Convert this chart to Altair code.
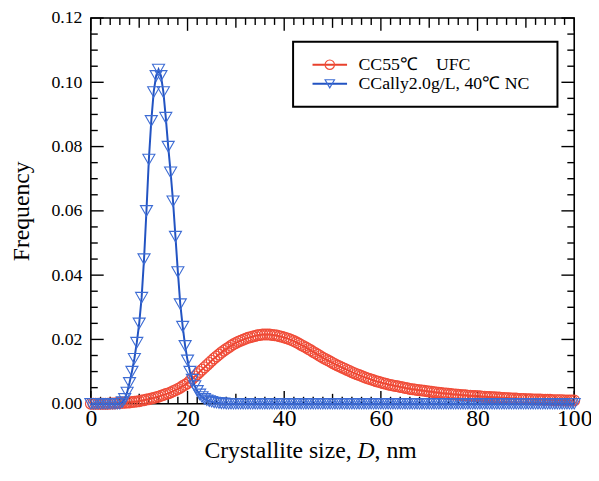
import altair as alt
import pandas as pd

# ---------------- data ----------------
# crystallite size grid, nm (0 ... 100 in 0.5 nm steps)
size_nm = [i * 0.5 for i in range(201)]

# CC55℃ UFC  (red circles)
freq_cc55 = [
    0, 0, 0, 0, 0, 0, 0, 0, 0.0001, 0.0001,                                    # 0-4.5
    0.0001, 0.0002, 0.0002, 0.0003, 0.0003, 0.0004, 0.0004, 0.0005, 0.0006, 0.0007,  # 5-9.5
    0.0008, 0.0010, 0.0011, 0.0013, 0.0014, 0.0016, 0.0018, 0.0020, 0.0022, 0.0025,  # 10-14.5
    0.0027, 0.0030, 0.0032, 0.0035, 0.0039, 0.0042, 0.0046, 0.0050, 0.0055, 0.0059,  # 15-19.5
    0.0064, 0.0071, 0.0078, 0.0085, 0.0092, 0.0099, 0.0106, 0.0113, 0.0120, 0.0127,  # 20-24.5
    0.0134, 0.0141, 0.0147, 0.0153, 0.0159, 0.0165, 0.0170, 0.0175, 0.0180, 0.0185,  # 25-29.5
    0.0189, 0.0193, 0.0196, 0.0199, 0.0202, 0.0205, 0.0207, 0.0209, 0.0211, 0.0213,  # 30-34.5
    0.0214, 0.0215, 0.0215, 0.0215, 0.0215, 0.0214, 0.0213, 0.0212, 0.0210, 0.0208,  # 35-39.5
    0.0206, 0.0204, 0.0201, 0.0198, 0.0195, 0.0191, 0.0187, 0.0183, 0.0179, 0.0175,  # 40-44.5
    0.0170, 0.0166, 0.0161, 0.0157, 0.0152, 0.0148, 0.0143, 0.0139, 0.0135, 0.0131,  # 45-49.5
    0.0127, 0.0123, 0.0119, 0.0116, 0.0112, 0.0109, 0.0105, 0.0102, 0.0098, 0.0095,  # 50-54.5
    0.0092, 0.0089, 0.0086, 0.0083, 0.0080, 0.0078, 0.0075, 0.0073, 0.0070, 0.0068,  # 55-59.5
    0.0066, 0.0064, 0.0062, 0.0060, 0.0058, 0.0057, 0.0055, 0.0054, 0.0052, 0.0051,  # 60-64.5
    0.0049, 0.0048, 0.0046, 0.0045, 0.0044, 0.0043, 0.0042, 0.0041, 0.0040, 0.0039,  # 65-69.5
    0.0038, 0.0037, 0.0036, 0.0035, 0.0034, 0.0033, 0.0032, 0.0032, 0.0031, 0.0030,  # 70-74.5
    0.0029, 0.0029, 0.0028, 0.0027, 0.0026, 0.0026, 0.0025, 0.0025, 0.0024, 0.0024,  # 75-79.5
    0.0023, 0.0023, 0.0022, 0.0022, 0.0021, 0.0021, 0.0020, 0.0020, 0.0019, 0.0019,  # 80-84.5
    0.0018, 0.0018, 0.0017, 0.0017, 0.0016, 0.0016, 0.0016, 0.0015, 0.0015, 0.0015,  # 85-89.5
    0.0014, 0.0014, 0.0014, 0.0013, 0.0013, 0.0013, 0.0013, 0.0012, 0.0012, 0.0012,  # 90-94.5
    0.0012, 0.0011, 0.0011, 0.0011, 0.0011, 0.0011, 0.0010, 0.0010, 0.0010, 0.0010,  # 95-99.5
    0.0010,                                                                          # 100
]

# CCally2.0g/L, 40℃ NC  (blue triangles)
freq_ccally = (
    [0] * 10                                                                          # 0-4.5
    + [0, 0, 0, 0.0005, 0.0015, 0.0035, 0.0065, 0.010, 0.014, 0.019]                 # 5-9.5
    + [0.025, 0.033, 0.045, 0.060, 0.076, 0.088, 0.097, 0.102, 0.104, 0.102]         # 10-14.5
    + [0.097, 0.089, 0.080, 0.072, 0.063, 0.052, 0.041, 0.031, 0.024, 0.018]         # 15-19.5
    + [0.0135, 0.010, 0.0075, 0.0055, 0.0040, 0.0029, 0.0021, 0.0015, 0.0011, 0.0008]  # 20-24.5
    + [0.0006, 0.0004, 0.0003, 0.0002, 0.0001, 0.0001, 0, 0, 0, 0]                   # 25-29.5
    + [0] * 141                                                                       # 30-100
)
assert len(freq_cc55) == len(size_nm) == len(freq_ccally)

series_labels = ["CC55℃\u3000UFC", "CCally2.0g/L, 40℃ NC"]
x_label_values = [0, 20, 40, 60, 80, 100]
x_mid_ticks = [10, 30, 50, 70, 90]
x_minor_ticks = [v for v in range(2, 100, 2) if v % 10 != 0]
y_label_values = [0.0, 0.02, 0.04, 0.06, 0.08, 0.10, 0.12]
y_minor_ticks = [0.005, 0.01, 0.015, 0.025, 0.03, 0.035, 0.045, 0.05, 0.055,
                 0.065, 0.07, 0.075, 0.085, 0.09, 0.095, 0.105, 0.11, 0.115]

# ---------------- style ----------------
W, H = 490, 391
FONT = "Liberation Serif"
RED_LINE, RED_PT = "#E8412C", "#F04C38"
BLUE_LINE, BLUE_PT = "#2253C2", "#3D6CD4"

xs = alt.Scale(domain=[0, 100], nice=False, zero=False)
ys = alt.Scale(domain=[0, 0.12], nice=False)

df_red = pd.DataFrame({"x": size_nm, "y": freq_cc55})
df_blue = pd.DataFrame({"x": size_nm, "y": freq_ccally})

x_axis = alt.Axis(values=x_label_values, ticks=False, domain=False, grid=False,
                  labelFont=FONT, labelFontSize=24, labelPadding=3, labelColor="black",
                  format="d", title=None, labelFlush=False, labelOverlap=False)
y_axis = alt.Axis(values=y_label_values, ticks=False, domain=False, grid=False,
                  labelFont=FONT, labelFontSize=18, labelPadding=9, labelColor="black",
                  format=".2f", title="Frequency", titleFont=FONT, titleFontSize=24,
                  titleFontWeight="normal", titleColor="black", titleAngle=270,
                  titleX=-63, titleY=H / 2, titleAlign="center", titleBaseline="alphabetic",
                  labelFlush=False, labelOverlap=False)

X = alt.X("x:Q", scale=xs, axis=x_axis)
Y = alt.Y("y:Q", scale=ys, axis=y_axis)

layers = []


def xtick_layer(vals, length):
    out = []
    d = pd.DataFrame({"x": vals})
    for y0, y1 in [(H, H - length), (0, length)]:
        out.append(
            alt.Chart(d).mark_rule(color="black", strokeWidth=1.4).encode(
                x=X, y=alt.value(y0), y2=alt.value(y1),
            )
        )
    return out


def ytick_layer(vals, length):
    out = []
    d = pd.DataFrame({"y": vals})
    for x0, x1 in [(0, length), (W, W - length)]:
        out.append(
            alt.Chart(d).mark_rule(color="black", strokeWidth=1.4).encode(
                y=Y, x=alt.value(x0), x2=alt.value(x1),
            )
        )
    return out


# red series
layers.append(alt.Chart(df_red).mark_line(color=RED_LINE, strokeWidth=2).encode(x=X, y=Y))

layers += xtick_layer(x_label_values, 13)
layers += xtick_layer(x_mid_ticks, 10)
layers += xtick_layer(x_minor_ticks, 7)
layers += ytick_layer(y_label_values, 13)
layers += ytick_layer(y_minor_ticks, 7)

layers.append(
    alt.Chart(df_red).mark_point(shape="circle", filled=False, color=RED_PT,
                                 size=120, strokeWidth=1.2, opacity=1).encode(x=X, y=Y)
)
# blue series
layers.append(alt.Chart(df_blue).mark_line(color=BLUE_LINE, strokeWidth=2).encode(x=X, y=Y))
layers.append(
    alt.Chart(df_blue).mark_point(shape="triangle-down", filled=False, color=BLUE_PT,
                                  size=150, strokeWidth=1.1, opacity=1).encode(x=X, y=Y)
)

# ---------------- legend (drawn) ----------------
one = pd.DataFrame({"k": [0]})
LX0, LX1, LY0, LY1 = 205, 473, 24, 90
layers.append(
    alt.Chart(one).mark_rect(fill="white", stroke="black", strokeWidth=2).encode(
        x=alt.value(LX0), x2=alt.value(LX1), y=alt.value(LY0), y2=alt.value(LY1))
)
for label, ly, lc, pc, shp in [
    (series_labels[0], 47.3, RED_LINE, RED_PT, "circle"),
    (series_labels[1], 66.7, BLUE_LINE, BLUE_PT, "triangle-down"),
]:
    layers.append(
        alt.Chart(one).mark_rule(color=lc, strokeWidth=2).encode(
            x=alt.value(224.7), x2=alt.value(259.7), y=alt.value(ly))
    )
    layers.append(
        alt.Chart(one).mark_point(shape=shp, filled=False, color=pc, size=90,
                                  strokeWidth=1.2, opacity=1).encode(
            x=alt.value(242.2), y=alt.value(ly))
    )
    layers.append(
        alt.Chart(pd.DataFrame({"t": [label]})).mark_text(
            font=FONT, fontSize=18, color="black", align="left", baseline="middle").encode(
            x=alt.value(271.3), y=alt.value(ly + 0.5), text="t:N")
    )

# ---------------- x-axis title with italic D ----------------
TB = 446
XD = 270.3
for txt, xpos, align, style in [
    ("Crystallite size,", XD - 6, "right", "normal"),
    ("D", XD, "left", "italic"),
    (", nm", XD + 17.3, "left", "normal"),
]:
    layers.append(
        alt.Chart(pd.DataFrame({"t": [txt]})).mark_text(
            font=FONT, fontSize=24, color="black", align=align, baseline="alphabetic",
            fontStyle=style).encode(
            x=alt.value(xpos), y=alt.value(TB), text="t:N")
    )

chart = alt.layer(*layers).properties(
    width=W, height=H,
    autosize=alt.AutoSizeParams(type="none"),
    padding={"left": 84, "top": 7, "right": 17, "bottom": 60},
).configure_view(stroke="black", strokeWidth=1.6)

chart.save("out.html", embed_options={"renderer": "svg", "actions": False})
